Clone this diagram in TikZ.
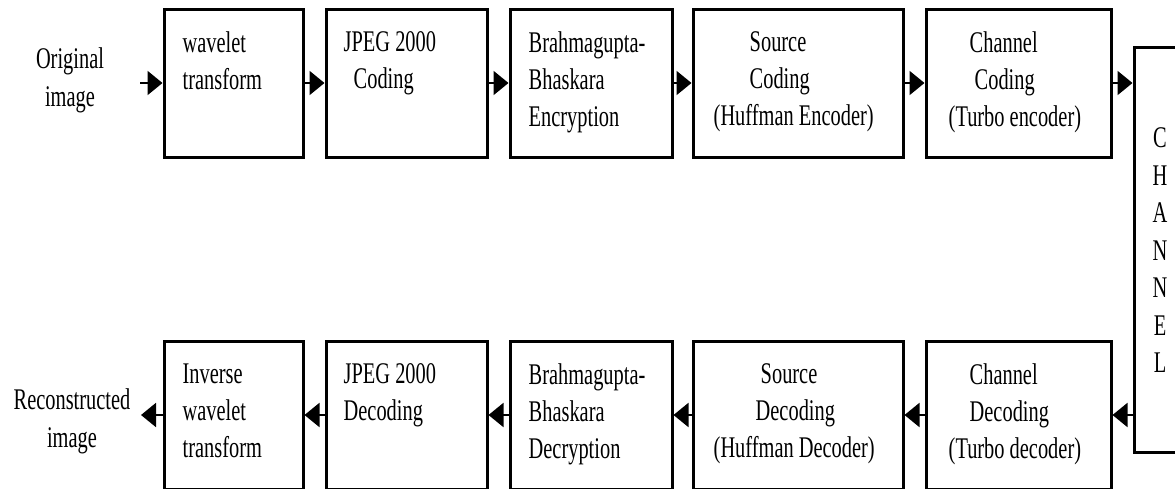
\documentclass[tikz,border=0pt]{standalone}
\usepackage{fontspec}
\setmainfont{Liberation Serif}[FakeStretch=0.68]
\usetikzlibrary{arrows.meta}
\begin{document}
\begin{tikzpicture}[x=1pt,y=-1pt,
        blk/.style={draw,line width=3pt,minimum height=148pt,inner sep=0pt},
        txt/.style={anchor=north west,align=left,inner sep=0pt,font=\fontsize{30}{37}\selectfont},
        lbl/.style={align=center,inner sep=0pt,font=\fontsize{30}{38}\selectfont},
        arr/.style={line width=2pt,-{Triangle[length=15pt,width=24pt]}}]
        \def\ytop{83} \def\ybot{415}
        \useasboundingbox (0,0) rectangle (1175,488);
        \clip (0,0) rectangle (1175,488);
        \node[blk,minimum width=139pt] (enc1) at (233.5,\ytop) {};
        \node[blk,minimum width=161pt] (enc2) at (406.5,\ytop) {};
        \node[blk,minimum width=162pt] (enc3) at (591,\ytop) {};
        \node[blk,minimum width=210pt] (enc4) at (798,\ytop) {};
        \node[blk,minimum width=185pt] (enc5) at (1018.5,\ytop) {};
        \node[blk,minimum width=139pt] (dec1) at (233.5,\ybot) {};
        \node[blk,minimum width=161pt] (dec2) at (406.5,\ybot) {};
        \node[blk,minimum width=162pt] (dec3) at (591,\ybot) {};
        \node[blk,minimum width=210pt] (dec4) at (798,\ybot) {};
        \node[blk,minimum width=185pt] (dec5) at (1018.5,\ybot) {};
        \node[draw,line width=3pt,minimum width=66pt,minimum height=405pt] (chan) at (1167,249.5) {};
        \node[txt] (tenc1) at ([shift={(20,24)}]enc1.north west) {wavelet\\transform};
        \node[txt] (tenc2) at ([shift={(19,24)}]enc2.north west) {JPEG 2000\\\hspace{10pt}Coding};
        \node[txt] (tenc3) at ([shift={(20,24)}]enc3.north west) {Brahmagupta-\\Bhaskara\\Encryption};
        \node[txt] (tenc4) at ([shift={(22,24)}]enc4.north west) {\hspace{36pt}Source\\\hspace{36pt}Coding\\(Huffman Encoder)};
        \node[txt] (tenc5) at ([shift={(24,24)}]enc5.north west) {\hspace{21pt}Channel\\\hspace{26pt}Coding\\(Turbo encoder)};
        \node[txt] (tdec1) at ([shift={(20,24)}]dec1.north west) {Inverse\\wavelet\\transform};
        \node[txt] (tdec2) at ([shift={(19,24)}]dec2.north west) {JPEG 2000\\Decoding};
        \node[txt] (tdec3) at ([shift={(20,24)}]dec3.north west) {Brahmagupta-\\Bhaskara\\Decryption};
        \node[txt] (tdec4) at ([shift={(22,24)}]dec4.north west) {\hspace{47pt}Source\\\hspace{42pt}Decoding\\(Huffman Decoder)};
        \node[txt] (tdec5) at ([shift={(24,24)}]dec5.north west) {\hspace{21pt}Channel\\\hspace{21pt}Decoding\\(Turbo decoder)};
        \node[lbl,font=\fontsize{30}{37.5}\selectfont] (tchan) at (1160,250.5) {C\\H\\A\\N\\N\\E\\L};
        \node[lbl] (orig) at (70,80) {Original\\image};
        \node[lbl] (recon) at (72,421) {Reconstructed\\image};
        \coordinate (src) at (140,\ytop);
        \coordinate (dst) at (141,\ybot);
        \draw[arr] (src) -- (enc1.west);
        \draw[arr] (enc1.east) -- (enc2.west);
        \draw[arr] (enc2.east) -- (enc3.west);
        \draw[arr] (enc3.east) -- (enc4.west);
        \draw[arr] (enc4.east) -- (enc5.west);
        \draw[arr] (enc5.east) -- (enc5.east -| chan.west);
        \draw[arr] (dec5.east -| chan.west) -- (dec5.east);
        \draw[arr] (dec5.west) -- (dec4.east);
        \draw[arr] (dec4.west) -- (dec3.east);
        \draw[arr] (dec3.west) -- (dec2.east);
        \draw[arr] (dec2.west) -- (dec1.east);
        \draw[arr] (dec1.west) -- (dst);
\end{tikzpicture}
\end{document}
